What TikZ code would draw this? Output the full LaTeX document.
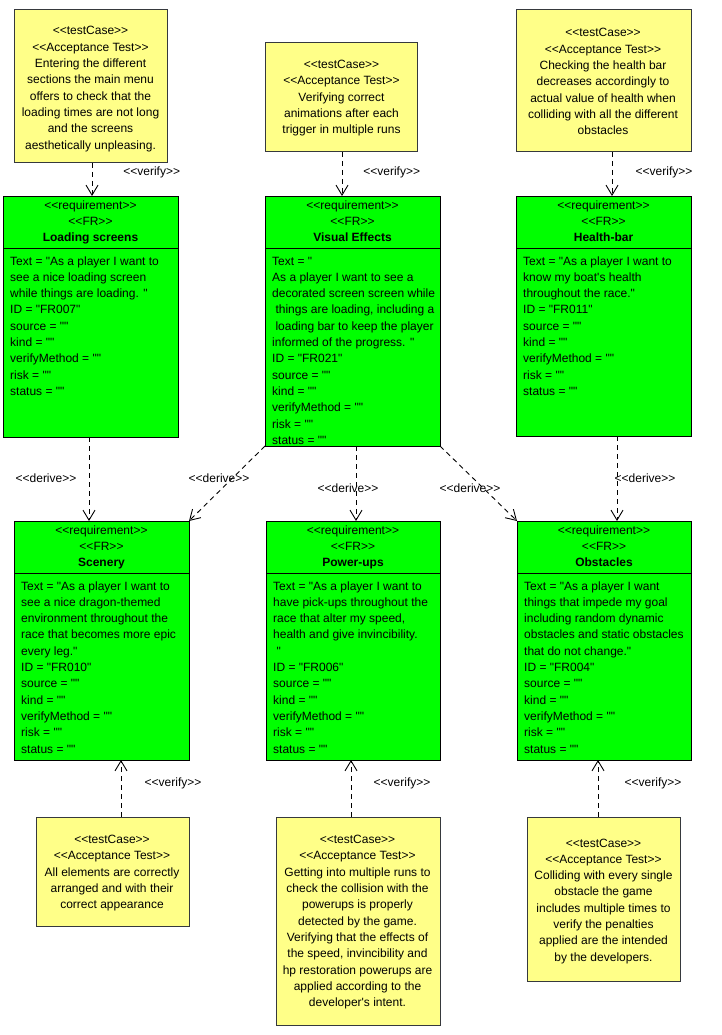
\documentclass[tikz,border=0pt]{standalone}
\usepackage{fontspec}
\newfontfamily\df{Liberation Sans}
\usetikzlibrary{arrows.meta,calc}
\definecolor{reqgreen}{HTML}{00FF00}
\definecolor{tcyellow}{HTML}{FFFF88}
\definecolor{tcline}{HTML}{36393D}
\newcommand\mylinesC[1]{\vtop{\baselineskip=16.3pt\lineskip=0pt\lineskiplimit=-20pt\halign{\hfil##\hfil\cr#1\crcr}}}
\newcommand\mylinesL[1]{\vtop{\baselineskip=16.3pt\lineskip=0pt\lineskiplimit=-20pt\halign{##\hfil\cr#1\crcr}}}
\tikzset{
  reqbox/.style={draw=black, fill=reqgreen, line width=1pt, anchor=north west, inner sep=0pt, outer sep=0pt},
  tcbox/.style={draw=tcline, fill=tcyellow, line width=1pt, anchor=north west, inner sep=0pt, outer sep=0pt},
  deparrow/.style={draw=black, line width=0.9pt, dash pattern=on 5pt off 4pt, -{Straight Barb[length=10pt,width=12pt]}},
  divider/.style={draw=black, line width=1pt},
  lbl/.style={inner sep=0pt, anchor=center},
  bodytxt/.style={inner sep=0pt, anchor=base west},
  ctxt/.style={inner sep=0pt, anchor=base},
}
\begin{document}
\begin{tikzpicture}[x=1pt,y=-1pt,font=\df\fontsize{12}{16.3}\selectfont]
\useasboundingbox (0,0) rectangle (722,1035);

% test case boxes
\node[tcbox, minimum width=153pt, minimum height=153pt] (tcA) at (14,10) {};
\node[tcbox, minimum width=152pt, minimum height=109pt] (tcB) at (265,43) {};
\node[tcbox, minimum width=175pt, minimum height=142pt] (tcC) at (516,10) {};
\node[tcbox, minimum width=153pt, minimum height=109pt] (tcD) at (36,817) {};
\node[tcbox, minimum width=164pt, minimum height=208pt] (tcE) at (276,817) {};
\node[tcbox, minimum width=153pt, minimum height=164pt] (tcF) at (527,817) {};

% requirement boxes
\node[reqbox, minimum width=175pt, minimum height=241pt] (rqA) at (3,196) {};
\node[reqbox, minimum width=175pt, minimum height=250pt] (rqB) at (265,196) {};
\node[reqbox, minimum width=175pt, minimum height=240pt] (rqC) at (516,196) {};
\node[reqbox, minimum width=175pt, minimum height=239pt] (rqD) at (14,521) {};
\node[reqbox, minimum width=174pt, minimum height=239pt] (rqE) at (266,521) {};
\node[reqbox, minimum width=174pt, minimum height=239pt] (rqF) at (517,521) {};

\foreach \r in {rqA,rqB,rqC,rqD,rqE,rqF}{
  \draw[divider] ($(\r.north west)+(0,52)$) -- ($(\r.north east)+(0,52)$);
}

% test case texts
\node[ctxt] (tA) at (90.5,35) {\mylinesC{<<testCase>>\cr <<Acceptance Test>>\cr Entering the different\cr sections the main menu\cr offers to check that the\cr loading times are not long\cr and the screens\cr aesthetically unpleasing.}};
\node[ctxt] (tB) at (341.5,68.6) {\mylinesC{<<testCase>>\cr <<Acceptance Test>>\cr Verifying correct\cr animations after each\cr trigger in multiple runs}};
\node[ctxt] (tC) at (603,37) {\mylinesC{<<testCase>>\cr <<Acceptance Test>>\cr Checking the health bar\cr decreases accordingly to\cr actual value of health when\cr colliding with all the different\cr obstacles}};
\node[ctxt] (tD) at (112,843.6) {\mylinesC{<<testCase>>\cr <<Acceptance Test>>\cr All elements are correctly\cr arranged and with their\cr correct appearance}};
\node[ctxt] (tE) at (357.5,843.6) {\mylinesC{<<testCase>>\cr <<Acceptance Test>>\cr Getting into multiple runs to\cr check the collision with the\cr powerups is properly\cr detected by the game.\cr Verifying that the effects of\cr the speed, invincibility and\cr hp restoration powerups are\cr applied according to the\cr developer's intent.}};
\node[ctxt] (tF) at (603.5,847) {\mylinesC{<<testCase>>\cr <<Acceptance Test>>\cr Colliding with every single\cr obstacle the game\cr includes multiple times to\cr verify the penalties\cr applied are the intended\cr by the developers.}};

% requirement headers
\node[ctxt] (hA) at ($(rqA.north)+(0,13.3)$) {\mylinesC{<<requirement>>\cr <<FR>>\cr \bfseries Loading screens}};
\node[ctxt] (hB) at ($(rqB.north)+(0,13.3)$) {\mylinesC{<<requirement>>\cr <<FR>>\cr \bfseries Visual Effects}};
\node[ctxt] (hC) at ($(rqC.north)+(0,13.3)$) {\mylinesC{<<requirement>>\cr <<FR>>\cr \bfseries Health-bar}};
\node[ctxt] (hD) at ($(rqD.north)+(0,13.3)$) {\mylinesC{<<requirement>>\cr <<FR>>\cr \bfseries Scenery}};
\node[ctxt] (hE) at ($(rqE.north)+(0,13.3)$) {\mylinesC{<<requirement>>\cr <<FR>>\cr \bfseries Power-ups}};
\node[ctxt] (hF) at ($(rqF.north)+(0,13.3)$) {\mylinesC{<<requirement>>\cr <<FR>>\cr \bfseries Obstacles}};

% requirement bodies
\node[bodytxt] (bA) at ($(rqA.north west)+(7,69)$) {\mylinesL{Text = "As a player I want to\cr see a nice loading screen\cr while things are loading. "\cr ID = "FR007"\cr source = ""\cr kind = ""\cr verifyMethod = ""\cr risk = ""\cr status = ""}};
\node[bodytxt] (bB) at ($(rqB.north west)+(7,69)$) {\mylinesL{Text = "\cr As a player I want to see a\cr decorated screen screen while\cr \kern3.3pt things are loading, including a\cr \kern3.3pt loading bar to keep the player\cr informed of the progress. "\cr ID = "FR021"\cr source = ""\cr kind = ""\cr verifyMethod = ""\cr risk = ""\cr status = ""}};
\node[bodytxt] (bC) at ($(rqC.north west)+(7,69)$) {\mylinesL{Text = "As a player I want to\cr know my boat's health\cr throughout the race."\cr ID = "FR011"\cr source = ""\cr kind = ""\cr verifyMethod = ""\cr risk = ""\cr status = ""}};
\node[bodytxt] (bD) at ($(rqD.north west)+(7,69)$) {\mylinesL{Text = "As a player I want to\cr see a nice dragon-themed\cr environment throughout the\cr race that becomes more epic\cr every leg."\cr ID = "FR010"\cr source = ""\cr kind = ""\cr verifyMethod = ""\cr risk = ""\cr status = ""}};
\node[bodytxt] (bE) at ($(rqE.north west)+(7,69)$) {\mylinesL{Text = "As a player I want to\cr have pick-ups throughout the\cr race that alter my speed,\cr health and give invincibility.\cr \kern3.3pt "\cr ID = "FR006"\cr source = ""\cr kind = ""\cr verifyMethod = ""\cr risk = ""\cr status = ""}};
\node[bodytxt] (bF) at ($(rqF.north west)+(7,69)$) {\mylinesL{Text = "As a player I want\cr things that impede my goal\cr including random dynamic\cr obstacles and static obstacles\cr that do not change."\cr ID = "FR004"\cr source = ""\cr kind = ""\cr verifyMethod = ""\cr risk = ""\cr status = ""}};

% connector anchor points
\coordinate (vA) at ($(tcA.south)+(1.5,0)$);
\coordinate (vB) at ($(tcB.south)+(1,0)$);
\coordinate (vC) at ($(tcC.south)+(8.5,0)$);
\coordinate (dA) at ($(rqA.south)+(-1.5,0)$);
\coordinate (dB) at ($(rqB.south)+(3.5,0)$);
\coordinate (dC) at ($(rqC.south)+(13.5,0)$);
\coordinate (uD) at ($(tcD.north)+(8.5,0)$);
\coordinate (uE) at ($(tcE.north)+(-7,0)$);
\coordinate (uF) at ($(tcF.north)+(-5.5,0)$);

% verify (top)
\draw[deparrow] (vA) -- (vA |- rqA.north);
\draw[deparrow] (vB) -- (vB |- rqB.north);
\draw[deparrow] (vC) -- (vC |- rqC.north);
% derive
\draw[deparrow] (dA) -- (dA |- rqD.north);
\draw[deparrow] (rqB.south west) -- (rqD.north east);
\draw[deparrow] (dB) -- (dB |- rqE.north);
\draw[deparrow] (rqB.south east) -- (rqF.north west);
\draw[deparrow] (dC) -- (dC |- rqF.north);
% verify (bottom)
\draw[deparrow] (uD) -- (uD |- rqD.south);
\draw[deparrow] (uE) -- (uE |- rqE.south);
\draw[deparrow] (uF) -- (uF |- rqF.south);

% labels
\node[lbl] (lvA) at (151.7,172.3) {<<verify>>};
\node[lbl] (lvB) at (391.7,172.3) {<<verify>>};
\node[lbl] (lvC) at (664,172.3) {<<verify>>};
\node[lbl] (ldA) at (46,478) {<<derive>>};
\node[lbl] (ldB) at (219,478) {<<derive>>};
\node[lbl] (ldC) at (348,488) {<<derive>>};
\node[lbl] (ldD) at (470,488) {<<derive>>};
\node[lbl] (ldE) at (645,478) {<<derive>>};
\node[lbl] (lvD) at (173,783) {<<verify>>};
\node[lbl] (lvE) at (402,783) {<<verify>>};
\node[lbl] (lvF) at (653,783) {<<verify>>};
\end{tikzpicture}
\end{document}
